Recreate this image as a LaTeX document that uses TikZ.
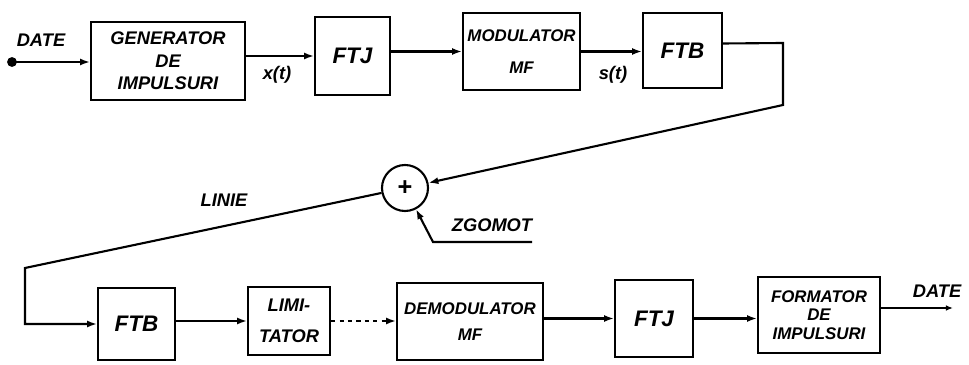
\documentclass[tikz,border=0pt]{standalone}
\usepackage{fontspec}
\setmainfont{Liberation Sans}
\usepackage{tikz}
\usetikzlibrary{arrows.meta, calc}
\tikzset{
  blk/.style={draw, line width=1.5pt, align=center, inner sep=1pt,
    font=\bfseries\itshape\fontsize{13}{16}\selectfont},
  big/.style={font=\bfseries\itshape\fontsize{16}{18}\selectfont},
  lbl/.style={font=\bfseries\itshape\fontsize{13}{16}\selectfont},
  wire/.style={line width=1.5pt, -{Latex[length=7pt, width=5pt]}}
}

\begin{document}
\begin{tikzpicture}[x=0.025cm, y=-0.025cm]
\useasboundingbox (0,0) rectangle (969,365);
% transmitter
\coordinate (in) at (12,62);
\node[lbl] (datein) at (41,40) {DATE};
\node[blk, minimum width=3.85cm, minimum height=1.95cm] (gen) at (168,61) {GENERATOR\\DE\\IMPULSURI};
\node[blk, big, minimum width=1.875cm, minimum height=1.95cm] (ftjA) at (352.5,56) {FTJ};
\node[blk, minimum width=2.925cm, minimum height=1.925cm,
  font=\bfseries\itshape\fontsize{12}{15}\selectfont] (mod) at (521.5,51.5) {MODULATOR\\[8pt]MF};
\node[blk, big, minimum width=1.975cm, minimum height=1.875cm] (ftbA) at (682.5,50.5) {FTB};
\node[lbl] (xt) at (277,75) {x(t)};
\node[lbl] (st) at (613,75) {s(t)};
\fill (in) circle (3.5pt);
\draw[wire] (in) -- (gen.west |- in);
\draw[wire] (gen.east |- ftjA.west) -- (ftjA.west);
\draw[wire] (ftjA.east |- mod.west) -- (mod.west);
\draw[wire] (mod.east) -- (ftbA.west |- mod.east);
% line and noise
\node[draw, circle, line width=1.5pt, minimum size=1.15cm, inner sep=0pt,
  font=\bfseries\fontsize{18}{18}\selectfont] (sum) at (405,188) {+};
\coordinate (r1) at (783,43);
\coordinate (r2) at (783,105);
\coordinate (l1) at (25,268);
\coordinate (z1) at (433,242);
\coordinate (z2) at (532,242);
\node[lbl] (linie) at (224,200) {LINIE};
\node[lbl] (zgomot) at (492,225) {ZGOMOT};
\draw[wire] ($(ftbA.east)+(0,-7)$) -- (r1) -- (r2) -- (sum);
\draw[wire] (z2) -- (z1) -- (sum);
% receiver
\node[blk, big, minimum width=1.925cm, minimum height=1.8cm] (ftbB) at (136.5,324) {FTB};
\node[blk, minimum width=2.05cm, minimum height=1.7cm] (lim) at (289,321) {LIMI-\\[6pt]TATOR};
\node[blk, minimum width=3.65cm, minimum height=1.925cm,
  font=\bfseries\itshape\fontsize{12}{15}\selectfont] (demod) at (470,321.5) {DEMODULATOR\\[3pt]MF};
\node[blk, big, minimum width=1.95cm, minimum height=1.925cm] (ftjB) at (654,318.5) {FTJ};
\node[blk, minimum width=3.05cm, minimum height=1.9cm,
  font=\bfseries\itshape\fontsize{12}{13}\selectfont] (form) at (819,315) {FORMATOR\\DE\\IMPULSURI};
\coordinate (out) at (953,308);
\node[lbl] (dateout) at (937,291) {DATE};
\draw[wire] (sum) -- (l1) |- (ftbB.west);
\draw[wire] (ftbB.east |- lim.west) -- (lim.west);
\draw[wire, dashed] (lim.east) -- (demod.west |- lim.east);
\draw[wire] (demod.east |- ftjB.west) -- (ftjB.west);
\draw[wire] (ftjB.east) -- (form.west |- ftjB.east);
\draw[wire, -{Latex[length=5pt, width=4pt]}] (form.east |- out) -- (out);
\end{tikzpicture}
\end{document}
